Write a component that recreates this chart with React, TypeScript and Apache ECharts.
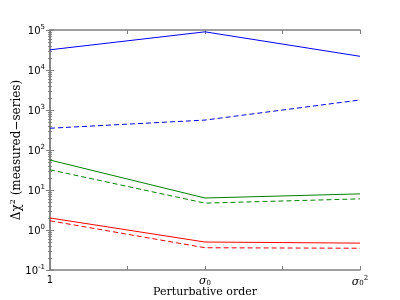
import React, { useEffect, useRef } from "react";
import * as echarts from "echarts";

const orders = [0, 1, 2];
const xLabels = ["1", "{i|σ}{sub|0}", "{i|σ}{sub|0}{ss|2}"];
const blueSolid = [32000, 90000, 22000];
const blueDashed = [350, 560, 1780];
const greenSolid = [56, 6.3, 8];
const greenDashed = [32, 4.7, 6];
const redSolid = [2.0, 0.5, 0.47];
const redDashed = [1.7, 0.36, 0.35];

const seriesDefs = [
  { name: "blue-solid", values: blueSolid, color: "#0000ff", dashed: false },
  { name: "blue-dashed", values: blueDashed, color: "#0000ff", dashed: true },
  { name: "green-solid", values: greenSolid, color: "#008000", dashed: false },
  { name: "green-dashed", values: greenDashed, color: "#008000", dashed: true },
  { name: "red-solid", values: redSolid, color: "#ff0000", dashed: false },
  { name: "red-dashed", values: redDashed, color: "#ff0000", dashed: true },
];

const AX = "#7f7f7f";

export default function App() {
  const ref = useRef<HTMLDivElement>(null);
  useEffect(() => {
    const chart = echarts.init(ref.current!, null, { renderer: "svg" });
    const supLabel = (v: number) => {
      const e = Math.round(Math.log10(v));
      return `{b|10}{s|${e}}`;
    };
    const yRich = {
      b: { fontSize: 10, fontFamily: "DejaVu Sans", color: "#000" },
      s: { fontSize: 7, fontFamily: "DejaVu Sans", color: "#000", padding: [0, 0, 7, 0] },
    };
    const xRich = {
      i: { fontSize: 11, fontFamily: "DejaVu Serif", fontStyle: "italic", color: "#000" },
      sub: { fontSize: 7, fontFamily: "DejaVu Serif", color: "#000", padding: [5, 0, 0, 0], verticalAlign: "top" },
      ss: { fontSize: 7, fontFamily: "DejaVu Serif", color: "#000", padding: [0, 0, 7, 0] },
    };
    chart.setOption({
      animation: false,
      grid: {
        left: 50,
        right: 40,
        top: 30,
        bottom: 30,
        show: false,
        containLabel: false,
        outerBoundsMode: "none",
      },
      xAxis: [
        {
          type: "value",
          min: 0,
          max: 2,
          interval: 1,
          axisLine: { lineStyle: { color: AX, width: 1.5 } },
          axisTick: { inside: true, length: 4, lineStyle: { color: AX } },
          minorTick: { show: true, splitNumber: 2, length: 4, lineStyle: { color: AX } },
          splitLine: { show: false },
          axisLabel: {
            margin: 4,
            formatter: (v: number) => xLabels[Math.round(v)] ?? "",
            fontSize: 10,
            fontFamily: "DejaVu Sans",
            color: "#000",
            rich: xRich,
          },
          name: "Perturbative order",
          nameLocation: "middle",
          nameGap: 16,
          nameMoveOverlap: false,
          nameTextStyle: { fontFamily: "DejaVu Serif", fontSize: 11, color: "#000" },
        },
        {
          type: "value",
          position: "top",
          min: 0,
          max: 2,
          interval: 1,
          axisLine: { show: true, lineStyle: { color: AX, width: 1.5 } },
          axisTick: { inside: true, length: 4, lineStyle: { color: AX } },
          minorTick: { show: true, splitNumber: 2, length: 4, lineStyle: { color: AX } },
          splitLine: { show: false },
          axisLabel: { show: false },
        },
      ],
      yAxis: [
        {
          type: "log",
          logBase: 10,
          min: 0.1,
          max: 100000,
          axisLine: { show: true, lineStyle: { color: AX, width: 1.5 } },
          axisTick: { inside: true, length: 4, lineStyle: { color: AX } },
          minorTick: { show: true, splitNumber: 9, length: 2, lineStyle: { color: AX } },
          splitLine: { show: false },
          axisLabel: { formatter: supLabel, rich: yRich, margin: 5 },
          name: "Δχ{s|2} (measured−series)",
          nameLocation: "middle",
          nameGap: 26,
          nameMoveOverlap: false,
          nameTextStyle: {
            fontFamily: "DejaVu Serif",
            fontSize: 12,
            color: "#000",
            rich: {
              s: { fontSize: 8, fontFamily: "DejaVu Serif", color: "#000", padding: [0, 0, 8, 0] },
            },
          },
        },
        {
          type: "log",
          logBase: 10,
          min: 0.1,
          max: 100000,
          position: "right",
          axisLine: { show: true, lineStyle: { color: AX, width: 1.5 } },
          axisTick: { inside: true, length: 4, lineStyle: { color: AX } },
          minorTick: { show: true, splitNumber: 9, length: 2, lineStyle: { color: AX } },
          splitLine: { show: false },
          axisLabel: { show: false },
        },
      ],
      series: seriesDefs.map((s) => ({
        name: s.name,
        type: "line",
        xAxisIndex: 0,
        yAxisIndex: 0,
        symbol: "none",
        data: orders.map((o, i) => [o, s.values[i]]),
        lineStyle: { color: s.color, width: 1, type: s.dashed ? [5, 3] : "solid" },
      })),
    });
    return () => chart.dispose();
  }, []);
  return (
    <div
      ref={ref}
      style={{ position: "fixed", left: 0, top: 0, width: 400, height: 300 }}
    />
  );
}
